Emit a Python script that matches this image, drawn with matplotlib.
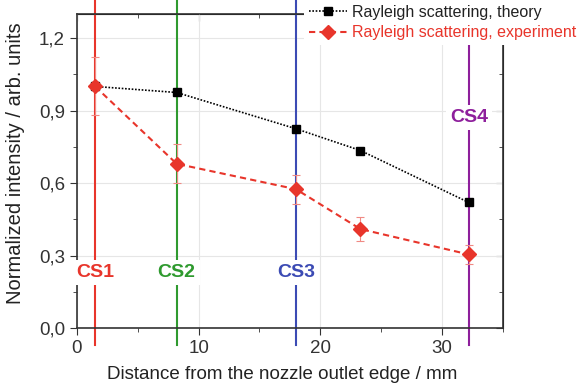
import matplotlib
matplotlib.use("Agg")
import matplotlib.pyplot as plt
from matplotlib.ticker import MultipleLocator, FuncFormatter
from matplotlib.lines import Line2D

plt.rcParams['font.family'] = ['Liberation Sans', 'DejaVu Sans']

x = [1.5, 8.2, 18.0, 23.3, 32.2]
theory = [1.0, 0.975, 0.825, 0.735, 0.52]
experiment = [1.0, 0.68, 0.575, 0.41, 0.305]
exp_err = [0.12, 0.08, 0.06, 0.05, 0.04]

cs_names = ["CS1", "CS2", "CS3", "CS4"]
cs_pos = [1.5, 8.2, 18.0, 32.2]
cs_label_y = [0.23, 0.23, 0.23, 0.87]
cs_colors = ["#e8352b", "#2f9a2f", "#3c4bb4", "#8e1f9c"]

fig = plt.figure(figsize=(5.78, 3.87), dpi=100)
ax = fig.add_axes([0.133, 0.152, 0.737, 0.812])

ax.set_xlim(0, 35)
ax.set_ylim(0, 1.3)

ax.grid(True, which='major', color='#e6e6e6', linewidth=0.8)
ax.set_axisbelow(True)

for name, pos, ly, c in zip(cs_names, cs_pos, cs_label_y, cs_colors):
    ax.plot([pos, pos], [-0.07, 1.42], color=c, lw=1.5, clip_on=False, zorder=2)
    ax.text(pos, ly, name, color=c, fontsize=14, fontweight='bold', ha='center', va='center',
            bbox=dict(facecolor='white', edgecolor='none', pad=3), zorder=3)

theory_style = dict(color='black', ls=(0, (1, 1)), lw=1.2, marker='s', ms=6)
exp_style = dict(color='#e8352b', ls=(0, (3, 2)), lw=1.5, marker='D', ms=7)

ax.plot(x, theory, zorder=5, **theory_style)
ax.errorbar(x, experiment, yerr=exp_err, ecolor='#f08a84', elinewidth=0.8, capsize=3,
            capthick=0.8, zorder=5, **exp_style)

ax.xaxis.set_major_locator(MultipleLocator(10))
ax.xaxis.set_minor_locator(MultipleLocator(5))
ax.yaxis.set_major_locator(MultipleLocator(0.3))
ax.yaxis.set_minor_locator(MultipleLocator(0.15))
ax.yaxis.set_major_formatter(FuncFormatter(lambda v, p: f"{v:.1f}".replace('.', ',')))

ax.tick_params(which='both', direction='out', labelsize=13.5, colors='#333333')
ax.tick_params(which='major', length=5)
ax.tick_params(which='minor', length=3)
for s in ax.spines.values():
    s.set_color('#333333')
    s.set_linewidth(1.2)

axr = ax.secondary_yaxis('right')
axr.yaxis.set_major_locator(MultipleLocator(0.3))
axr.yaxis.set_minor_locator(MultipleLocator(0.15))
axr.tick_params(which='both', direction='in', labelright=False, colors='#333333')
axr.tick_params(which='major', length=5)
axr.tick_params(which='minor', length=3)
axt = ax.secondary_xaxis('top')
axt.xaxis.set_major_locator(MultipleLocator(10))
axt.xaxis.set_minor_locator(MultipleLocator(5))
axt.tick_params(which='both', direction='in', labeltop=False, colors='#333333')
axt.tick_params(which='major', length=5)
axt.tick_params(which='minor', length=3)

ax.set_xlabel('Distance from the nozzle outlet edge / mm', fontsize=13.5, color='#222222')
ax.set_ylabel('Normalized intensity / arb. units', fontsize=14.5, color='#222222')
ax.xaxis.set_label_coords(0.483, -0.12)
ax.yaxis.set_label_coords(-0.122, 0.525)

handles = [Line2D([], [], **theory_style), Line2D([], [], **exp_style)]
labels = ['Rayleigh scattering, theory', 'Rayleigh scattering, experiment']
leg = fig.legend(handles, labels, loc='upper left', bbox_to_anchor=(0.526, 1.0), frameon=True,
                 facecolor='white', edgecolor='none', framealpha=1, fancybox=False,
                 fontsize=11.5, handlelength=2.4, handletextpad=0.3, borderpad=0.3,
                 borderaxespad=0, labelspacing=0.35)
leg.set_zorder(10)
for t, c in zip(leg.get_texts(), ['#222222', '#e8352b']):
    t.set_color(c)

fig.savefig('out.png', dpi=100)
